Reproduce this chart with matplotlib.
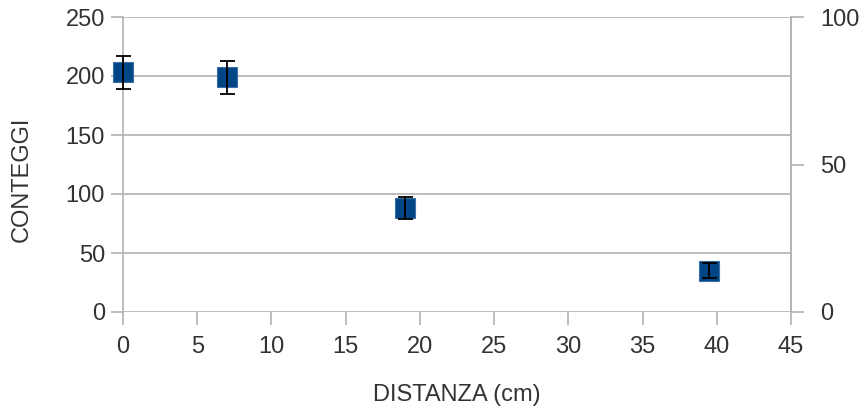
import numpy as np
import matplotlib.pyplot as plt

plt.rcParams['font.family'] = ['Liberation Sans', 'DejaVu Sans']

distanza = [0, 7, 19, 39.5]
conteggi = [203, 199, 88, 35]
errori = [14, 14, 9.5, 6.5]

x_ticks = list(range(0, 50, 5))
y_ticks = list(range(0, 300, 50))
y2_ticks = [0, 50, 100]

grid_col = '#b3b3b3'
text_col = '#333333'

fig = plt.figure(figsize=(8.6, 4.12), dpi=100)
ax = fig.add_axes([123/860, 1-312/412, (791-123)/860, (312-17)/412])

ax.set_xlim(0, 45)
ax.set_ylim(0, 250)
ax.set_xticks(x_ticks)
ax.set_yticks(y_ticks)
ax.grid(axis='y', color=grid_col, lw=1.2)
ax.set_axisbelow(True)
for s in ['top', 'bottom']:
    ax.spines[s].set_visible(False)
for s in ['left', 'right']:
    ax.spines[s].set_color(grid_col)
    ax.spines[s].set_linewidth(1.2)
ax.tick_params(axis='both', colors=grid_col, labelcolor=text_col, labelsize=17,
               length=9, width=1.2, direction='out')
ax.tick_params(axis='y', pad=4)
ax.tick_params(axis='x', pad=8)

ax2 = ax.twinx()
ax2.set_ylim(0, 100)
ax2.set_yticks(y2_ticks)
for s in ['top', 'bottom', 'left']:
    ax2.spines[s].set_visible(False)
ax2.spines['right'].set_color(grid_col)
ax2.spines['right'].set_linewidth(1.2)
ax2.tick_params(axis='y', colors=grid_col, labelcolor=text_col, labelsize=17,
                length=9, width=1.2, direction='out', pad=12)

# markers first, error bars drawn on top of them
pts = ax.plot(distanza, conteggi, 's', ms=14.4, mfc='#004586', mec='#3c6ea8',
              mew=0.8, zorder=3, clip_on=False)
eb = ax.errorbar(distanza, conteggi, yerr=errori, fmt='none', ecolor='black',
                 elinewidth=1.3, capsize=5.4, capthick=1.3, zorder=4)
for art in eb.lines[1] + eb.lines[2]:
    art.set_clip_on(False)
for art in eb.lines[2]:
    art.set_clip_on(False)

ax.set_xlabel('DISTANZA (cm)', fontsize=17, color=text_col)
ax.set_ylabel('CONTEGGI', fontsize=17, color=text_col)
ax.xaxis.set_label_coords(0.5, -0.245)
ax.yaxis.set_label_coords(-0.135, 0.45)

fig.savefig('out.png', dpi=100)
